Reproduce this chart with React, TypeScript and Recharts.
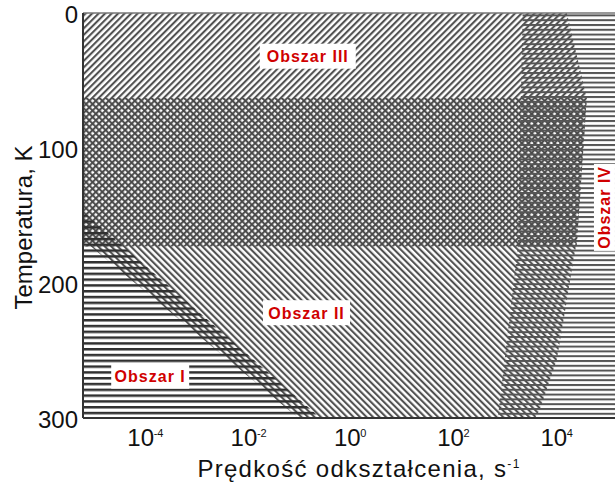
import React from 'react';
import { ComposedChart, Area, XAxis, YAxis, ReferenceDot, ReferenceLine } from 'recharts';

// axis limits and ticks (strain rate in s^-1, temperature in K)
const rateMin = 8e-6;
const rateMax = 1.6e5;
const rateTicks = [1e-4, 1e-2, 1, 1e2, 1e4];
const tempTicks = [0, 100, 200, 300];

// "/" hatched zone (Obszar III + upper half of the cross-hatched band)
const slashTemps = [0, 63, 139, 173];
const slashLeft = [rateMin, rateMin, rateMin, rateMin];
const slashRight = [1.87e4, 4.55e4, 3.33e4, 2.91e4];

// "\" hatched zone (cross-hatched band + Obszar II)
const backTemps = [63, 139, 168, 190, 213, 257, 294, 300];
const backLeft = [rateMin, rateMin, rateMin, 3.9e-5, 2.1e-4, 5.2e-3, 0.077, 0.12];
const backRight = [4.55e4, 3.33e4, 2.95e4, 2.33e4, 1.87e4, 1.19e4, 5.6e3, 4.5e3];

// horizontal lines, Obszar I (bottom left)
const lowTemps = [147, 300];
const lowLeft = [rateMin, rateMin];
const lowRight = [rateMin, 0.32];

// horizontal lines, Obszar IV (right)
const highTemps = [0, 173, 300];
const highLeft = [2.6e3, 2.1e3, 860];
const highRight = [rateMax, rateMax, rateMax];

// region names and where they sit
const regionNames = ['Obszar I', 'Obszar II', 'Obszar III', 'Obszar IV'];
const regionRates = [1.6e-4, 0.17, 0.18, 1.0e5];
const regionTemps = [269, 222, 32, 144];
const regionVertical = [false, false, false, true];

const zone = (temps: number[], lo: number[], hi: number[]) =>
  temps.map((T, i) => ({ T, rate: [lo[i], hi[i]] }));

const FONT = '"Liberation Sans", Arial, sans-serif';

const RateTick = ({ x, y, payload }: any) => {
  const exp = Math.round(Math.log10(payload.value));
  return (
    <g fontFamily={FONT} fill="#111">
      <text x={x + 1} y={y + 28} textAnchor="middle" fontSize={24}>10</text>
      <text x={x + 14} y={y + 19} fontSize={11}>{exp}</text>
    </g>
  );
};

const TempTick = ({ x, y, payload }: any) => (
  <text x={x - 5} y={y + 10} textAnchor="end" fontSize={24} fontFamily={FONT} fill="#111">
    {payload.value}
  </text>
);

const XTitle = ({ viewBox }: any) => (
  <text
    x={viewBox.x + viewBox.width / 2 + 10}
    y={viewBox.y + 59}
    textAnchor="middle"
    fontSize={24}
    fontFamily={FONT}
    letterSpacing={1.3}
    fill="#111"
  >
    Prędkość odkształcenia, s
    <tspan dy={-9} fontSize={12}>-1</tspan>
  </text>
);

const YTitle = ({ viewBox }: any) => {
  const cx = 32;
  const cy = viewBox.y + viewBox.height / 2 + 12;
  return (
    <text
      x={cx}
      y={cy}
      transform={`rotate(-90, ${cx}, ${cy})`}
      textAnchor="middle"
      fontSize={24}
      fontFamily={FONT}
      fill="#111"
    >
      Temperatura, K
    </text>
  );
};

const RegionTag = ({ cx, cy, text, vertical }: any) => {
  const w = text.length * 9 + 6;
  const h = vertical ? 21 : 25;
  return (
    <g transform={vertical ? `rotate(-90, ${cx}, ${cy})` : undefined}>
      <rect x={cx - w / 2} y={cy - h / 2} width={w} height={h} fill="#fff" />
      <text
        x={cx}
        y={cy + 6}
        textAnchor="middle"
        fontSize={16}
        fontWeight="bold"
        fontFamily={FONT}
        letterSpacing={1}
        fill="#d00000"
      >
        {text}
      </text>
    </g>
  );
};

export default function App() {
  return (
    <div style={{ position: 'absolute', left: 0, top: 0, background: '#fff' }}>
      <ComposedChart
        width={615}
        height={484}
        layout="vertical"
        margin={{ top: 13, right: 0, bottom: 0, left: 0 }}
      >
        <defs>
          <pattern id="hatchSlash" width="4.6" height="4.6" patternUnits="userSpaceOnUse" patternTransform="rotate(45)">
            <line x1="1.1" y1="0" x2="1.1" y2="4.6" stroke="#484848" strokeWidth="2" />
          </pattern>
          <pattern id="hatchBack" width="4.6" height="4.6" patternUnits="userSpaceOnUse" patternTransform="rotate(-45)">
            <line x1="1.1" y1="0" x2="1.1" y2="4.6" stroke="#484848" strokeWidth="2" />
          </pattern>
          <pattern id="hatchLow" width="10" height="5.8" patternUnits="userSpaceOnUse">
            <rect x="0" y="0" width="10" height="2.5" fill="#303030" />
          </pattern>
          <pattern id="hatchHigh" width="10" height="4.8" patternUnits="userSpaceOnUse">
            <rect x="0" y="0" width="10" height="2" fill="#555" />
          </pattern>
        </defs>

        <XAxis
          type="number"
          dataKey="rate"
          scale="log"
          domain={[rateMin, rateMax]}
          ticks={rateTicks}
          allowDataOverflow
          height={66}
          tickSize={0}
          tickMargin={0}
          tick={<RateTick />}
          axisLine={{ stroke: '#333', strokeWidth: 2 }}
          label={<XTitle />}
        />
        <YAxis
          type="number"
          dataKey="T"
          domain={[0, 300]}
          ticks={tempTicks}
          allowDataOverflow
          width={83}
          tickSize={0}
          tickMargin={0}
          tick={<TempTick />}
          axisLine={{ stroke: '#333', strokeWidth: 2 }}
          label={<YTitle />}
        />

        <Area
          data={zone(slashTemps, slashLeft, slashRight)}
          dataKey="rate"
          type="linear"
          stroke="none"
          fill="url(#hatchSlash)"
          fillOpacity={1}
          dot={false}
          activeDot={false}
          isAnimationActive={false}
        />
        <Area
          data={zone(backTemps, backLeft, backRight)}
          dataKey="rate"
          type="linear"
          stroke="none"
          fill="url(#hatchBack)"
          fillOpacity={1}
          dot={false}
          activeDot={false}
          isAnimationActive={false}
        />
        <Area
          data={zone(lowTemps, lowLeft, lowRight)}
          dataKey="rate"
          type="linear"
          stroke="none"
          fill="url(#hatchLow)"
          fillOpacity={1}
          dot={false}
          activeDot={false}
          isAnimationActive={false}
        />
        <Area
          data={zone(highTemps, highLeft, highRight)}
          dataKey="rate"
          type="linear"
          stroke="none"
          fill="url(#hatchHigh)"
          fillOpacity={1}
          dot={false}
          activeDot={false}
          isAnimationActive={false}
        />

        <ReferenceLine y={0} stroke="#777" strokeWidth={1.5} />

        {regionNames.map((name, i) => (
          <ReferenceDot
            key={name}
            x={regionRates[i]}
            y={regionTemps[i]}
            r={0}
            ifOverflow="visible"
            shape={(p: any) => <RegionTag cx={p.cx} cy={p.cy} text={name} vertical={regionVertical[i]} />}
          />
        ))}
      </ComposedChart>
    </div>
  );
}
